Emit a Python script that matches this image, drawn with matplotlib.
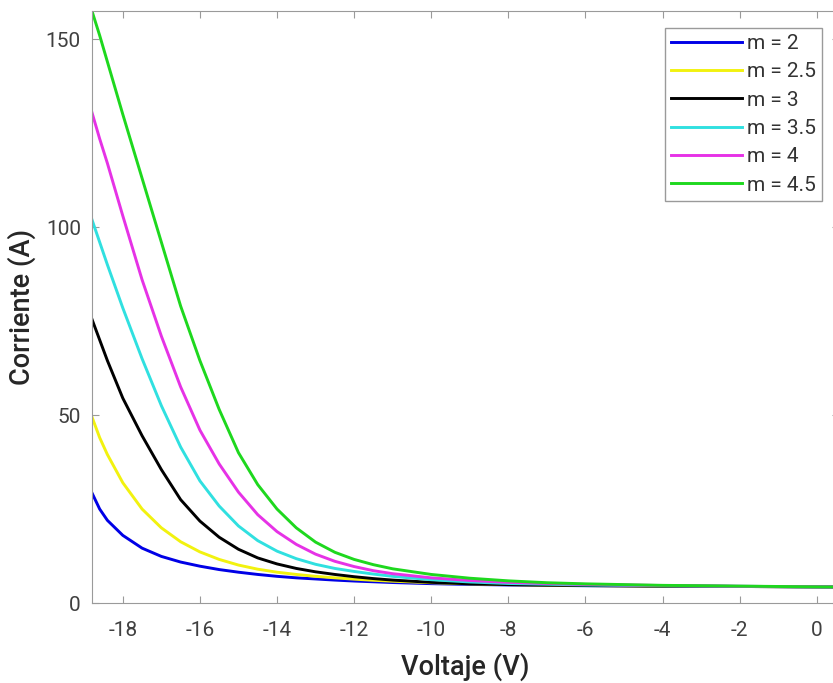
import numpy as np
import matplotlib.pyplot as plt

plt.rcParams['font.family'] = ['Roboto', 'DejaVu Sans']
plt.rcParams['axes.unicode_minus'] = False

# voltage samples (V)
voltaje = [-18.8, -18.6, -18.4, -18, -17.5, -17, -16.5, -16, -15.5, -15, -14.5,
           -14, -13.5, -13, -12.5, -12, -11.5, -11, -10, -9, -8, -7, -6, -4,
           -2, 0, 0.6]

# current (A) for each m
i_m2 = [29.3, 25.0, 22.0, 18.0, 14.6, 12.4, 10.9, 9.8, 8.9, 8.2, 7.6,
        7.1, 6.7, 6.4, 6.1, 5.85, 5.65, 5.45, 5.15, 4.95, 4.8, 4.7, 4.6, 4.5,
        4.4, 4.3, 4.25]
i_m25 = [49.5, 44.0, 39.5, 32.0, 25.0, 20.0, 16.3, 13.6, 11.6, 10.1, 9.0,
         8.2, 7.6, 7.1, 6.7, 6.35, 6.05, 5.8, 5.4, 5.1, 4.9, 4.75, 4.65, 4.5,
         4.4, 4.3, 4.25]
i_m3 = [75.5, 70.0, 64.5, 54.5, 44.5, 35.5, 27.5, 21.8, 17.5, 14.3, 12.0,
        10.4, 9.2, 8.3, 7.6, 7.0, 6.5, 6.1, 5.5, 5.1, 4.9, 4.75, 4.65, 4.5,
        4.4, 4.3, 4.25]
i_m35 = [102.0, 96.0, 90.0, 78.5, 65.0, 52.5, 41.5, 32.5, 25.8, 20.5, 16.6,
         13.8, 11.8, 10.3, 9.2, 8.4, 7.7, 7.1, 6.2, 5.6, 5.2, 5.0, 4.8, 4.6,
         4.45, 4.3, 4.25]
i_m4 = [130.5, 123.5, 117.0, 103.0, 86.0, 71.0, 57.5, 46.0, 37.0, 29.5, 23.5,
        19.0, 15.6, 13.0, 11.1, 9.7, 8.6, 7.8, 6.7, 6.0, 5.5, 5.2, 4.95, 4.65,
        4.45, 4.3, 4.25]
i_m45 = [157.5, 151.0, 144.0, 130.0, 113.0, 96.0, 79.0, 64.5, 51.5, 40.0, 31.5,
         25.0, 20.0, 16.2, 13.5, 11.6, 10.2, 9.1, 7.6, 6.6, 5.9, 5.4, 5.1, 4.7,
         4.5, 4.3, 4.25]

labels = ['m = 2', 'm = 2.5', 'm = 3', 'm = 3.5', 'm = 4', 'm = 4.5']
colores = ['#0000e6', '#f2f20f', '#000000', '#30e0e0', '#e632e6', '#1ed81e']
series = [i_m2, i_m25, i_m3, i_m35, i_m4, i_m45]

fig = plt.figure(figsize=(8.33, 6.83), dpi=100)
# axes runs a few pixels past the right edge, as in the original
ax = fig.add_axes([0.1104, 0.1171, 0.8968, 0.8668])

for y, lab, c in zip(series, labels, colores):
    ax.plot(voltaje, y, color=c, lw=2.1, label=lab, solid_joinstyle='round')

ax.set_xlim(-18.8, 0.578)
ax.set_ylim(0, 157.5)
ax.set_xticks(np.arange(-18, 1, 2))
ax.set_yticks([0, 50, 100, 150])

gris = '#9a9a9a'
for s in ax.spines.values():
    s.set_color(gris)
ax.tick_params(direction='in', top=True, right=True, color=gris,
               labelcolor='#404040', labelsize=15, length=5)
ax.tick_params(axis='x', pad=13)
ax.tick_params(axis='y', pad=8)

ax.set_xlabel('Voltaje (V)', fontsize=19.5, fontweight='medium',
              color='#262626', labelpad=9)
ax.set_ylabel('Corriente (A)', fontsize=19.5, fontweight='medium',
              color='#262626', labelpad=7)

leg = ax.legend(loc='upper right', fontsize=15, handlelength=3.4,
                handletextpad=0.25, labelspacing=0.45, borderpad=0.3,
                fancybox=False, framealpha=1, borderaxespad=0.8)
leg.get_frame().set_edgecolor(gris)
leg.get_frame().set_linewidth(1.0)
for t in leg.get_texts():
    t.set_color('#333333')

fig.savefig('out.png', dpi=100)
